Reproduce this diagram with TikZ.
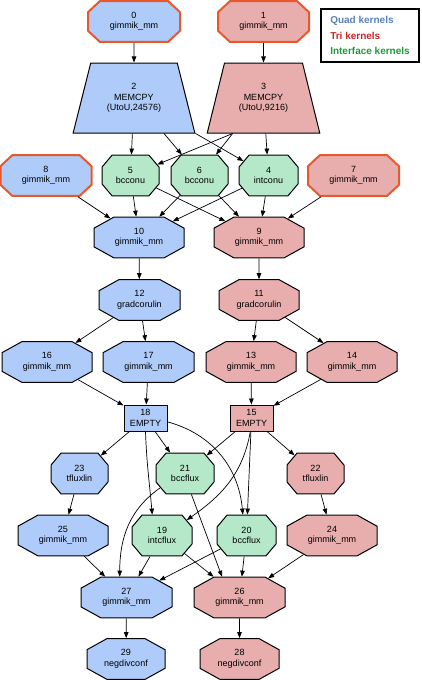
\documentclass[tikz,border=0pt]{standalone}
\usepackage{fontspec}
\setmainfont{Liberation Sans}
\usetikzlibrary{
        arrows.meta,
        shapes.geometric,
        shapes.misc
    }
\definecolor{quadfill}{HTML}{AECBFA}
\definecolor{trifill}{HTML}{E8AEAE}
\definecolor{ifacefill}{HTML}{B4E8C8}
\definecolor{srcline}{HTML}{E8582A}
\definecolor{quadtext}{HTML}{5B7FB8}
\definecolor{tritext}{HTML}{C42828}
\definecolor{ifacetext}{HTML}{1E9A3C}
\tikzset{>={Triangle[length=6pt,width=4.5pt]}}
\tikzset{
    kern/.style={chamfered rectangle, chamfered rectangle angle=61,
        chamfered rectangle xsep=0pt, chamfered rectangle ysep=11pt,
        draw, line width=1pt, inner sep=0pt,
        minimum height=38pt, align=center, font=\fontsize{9}{10.5}\selectfont},
    quad/.style={kern, fill=quadfill},
    tri/.style={kern, fill=trifill},
    iface/.style={kern, fill=ifacefill},
    narrow/.style={chamfered rectangle angle=40, chamfered rectangle ysep=12pt},
    src/.style={draw=srcline, line width=2pt, chamfered rectangle angle=47,
        chamfered rectangle ysep=11pt},
    memcpy/.style={trapezium, trapezium angle=71, trapezium stretches=true,
        draw, line width=1pt, minimum height=70pt, align=center,
        font=\fontsize{9}{10.5}\selectfont},
    sink/.style={rectangle, draw, line width=1pt, minimum width=43pt,
        minimum height=26pt, inner sep=0pt, align=center,
        font=\fontsize{9}{10.5}\selectfont},
    link/.style={->, line width=0.7pt}
}

\begin{document}
\begin{tikzpicture}[x=1pt,y=1pt]
        \useasboundingbox (0,0) rectangle (421,-680);
        % sources
        \node[quad,src,minimum width=92pt] (k0) at (134,-21.5) {0\\gimmik\_mm};
        \node[tri,src,minimum width=91pt] (k1) at (263.5,-21.5) {1\\gimmik\_mm};
        \node[draw,line width=1.2pt,minimum width=98pt,minimum height=53pt,inner xsep=7pt,align=left,
              font=\bfseries\fontsize{10}{15.5}\selectfont] (legend) at (370,-35.5)
              {\textcolor{quadtext}{Quad kernels}\\\textcolor{tritext}{Tri kernels}\\\textcolor{ifacetext}{Interface kernels}};
        \node[memcpy,fill=quadfill,minimum width=122pt] (k2) at (134,-98) {2\\MEMCPY\\(UtoU,24576)};
        \node[memcpy,fill=trifill,minimum width=113pt] (k3) at (263.5,-98) {3\\MEMCPY\\(UtoU,9216)};

        \node[quad,src,minimum width=91pt] (k8) at (46,-175.5) {8\\gimmik\_mm};
        \node[iface,narrow,minimum width=57pt] (k5) at (130.5,-175.5) {5\\bcconu};
        \node[iface,narrow,minimum width=57pt] (k6) at (199.5,-175.5) {6\\bcconu};
        \node[iface,narrow,minimum width=59pt] (k4) at (268.5,-175.5) {4\\intconu};
        \node[tri,src,minimum width=91pt] (k7) at (353.5,-175.5) {7\\gimmik\_mm};

        \node[quad,minimum width=90pt] (k10) at (139,-237.5) {10\\gimmik\_mm};
        \node[tri,minimum width=90pt] (k9) at (259,-237.5) {9\\gimmik\_mm};
        \node[quad,minimum width=81pt] (k12) at (139.5,-300) {12\\gradcorulin};
        \node[tri,minimum width=80pt] (k11) at (259,-300) {11\\gradcorulin};

        \node[quad,minimum width=90pt] (k16) at (47,-362) {16\\gimmik\_mm};
        \node[quad,minimum width=91pt] (k17) at (148.5,-362) {17\\gimmik\_mm};
        \node[tri,minimum width=90pt] (k13) at (251,-362) {13\\gimmik\_mm};
        \node[tri,minimum width=90pt] (k14) at (352,-362) {14\\gimmik\_mm};

        \node[sink,fill=quadfill] (k18) at (145.5,-418) {18\\EMPTY};
        \node[sink,fill=trifill] (k15) at (251.5,-418) {15\\EMPTY};

        \node[quad,narrow,minimum width=57pt] (k23) at (79.5,-473.5) {23\\tfluxlin};
        \node[iface,narrow,minimum width=58pt] (k21) at (185,-473.5) {21\\bccflux};
        \node[tri,narrow,minimum width=57pt] (k22) at (315.5,-473.5) {22\\tfluxlin};

        \node[quad,minimum width=90pt] (k25) at (63,-535.5) {25\\gimmik\_mm};
        \node[iface,narrow,minimum width=60pt] (k19) at (162,-535.5) {19\\intcflux};
        \node[iface,narrow,minimum width=59pt] (k20) at (246.5,-535.5) {20\\bccflux};
        \node[tri,minimum width=90pt] (k24) at (332,-535.5) {24\\gimmik\_mm};

        \node[quad,minimum width=91pt] (k27) at (126.5,-597.5) {27\\gimmik\_mm};
        \node[tri,minimum width=91pt] (k26) at (239.5,-597.5) {26\\gimmik\_mm};
        \node[quad,minimum width=78pt] (k29) at (126,-659) {29\\negdivconf};
        \node[tri,minimum width=79pt] (k28) at (239.5,-659) {28\\negdivconf};

        % edges
        \draw[link] (k0) -- (k2);
        \draw[link] (k1) -- (k3);
        \draw[link] (k2) -- (k5);
        \draw[link] (k2) -- (k6);
        \draw[link] (k2) -- (k4);
        \draw[link] (k3.-131) -- (k5);
        \draw[link] (k3.-131) -- (k6);
        \draw[link] (k3) -- (k4);
        \draw[link] (k8) -- (k10);
        \draw[link] (k5) -- (k10);
        \draw[link] (k5) -- (k9);
        \draw[link] (k6) -- (k10);
        \draw[link] (k6) -- (k9);
        \draw[link] (k4) -- (k10);
        \draw[link] (k4) -- (k9);
        \draw[link] (k7) -- (k9);
        \draw[link] (k10) -- (k12);
        \draw[link] (k9) -- (k11);
        \draw[link] (k12) -- (k16);
        \draw[link] (k12) -- (k17);
        \draw[link] (k11) -- (k13);
        \draw[link] (k11) -- (k14);
        \draw[link] (k16) -- (k18);
        \draw[link] (k17) -- (k18);
        \draw[link] (k13) -- (k15);
        \draw[link] (k14) -- (k15);
        \draw[link] (k18) -- (k23);
        \draw[link] (k18) -- (k21);
        \draw[link] (k18.south) to[out=-88,in=95] (k19.115);
        \draw[link] (k18.-10) to[out=-15,in=95] (k20.100);
        \draw[link] (k15) -- (k21);
        \draw[link] (k15.-95) to[out=-100,in=35] (k19.32);
        \draw[link] (k15) -- (k20);
        \draw[link] (k15) -- (k22);
        \draw[link] (k23) -- (k25);
        \draw[link] (k22) -- (k24);
        \draw[link] (k21.210) to[out=-145,in=90] (k27.108);
        \draw[link] (k21.-73) -- (k26.130);
        \draw[link] (k25) -- (k27);
        \draw[link] (k19) -- (k27);
        \draw[link] (k19) -- (k26);
        \draw[link] (k20) -- (k27);
        \draw[link] (k20) -- (k26);
        \draw[link] (k24) -- (k26);
        \draw[link] (k27) -- (k29);
        \draw[link] (k26) -- (k28);
\end{tikzpicture}
\end{document}
